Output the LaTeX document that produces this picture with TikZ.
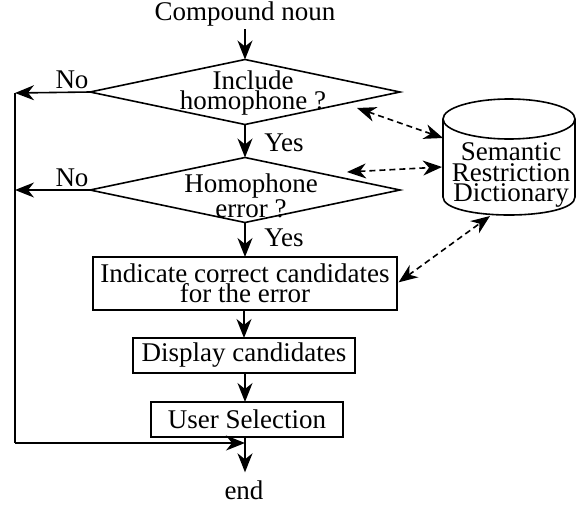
\documentclass[tikz,border=0pt]{standalone}
\usepackage{fontspec}
\setmainfont{Liberation Serif}
\usetikzlibrary{arrows.meta,shapes.geometric}
\begin{document}
\begin{tikzpicture}[x=1pt,y=-1pt,
  txt/.style={font=\fontsize{27}{20.5}\selectfont, align=center, inner sep=0pt},
  line/.style={line width=1.6pt},
  flow/.style={line, -{Stealth[length=19pt,width=15pt,inset=6pt]}},
  link/.style={line, dash pattern=on 6pt off 4pt,
    {Stealth[length=19pt,width=15pt,inset=6pt]}-{Stealth[length=19pt,width=15pt,inset=6pt]}},
  decision/.style={diamond, draw, line, minimum width=310pt, minimum height=65pt,
    inner sep=0pt, outer sep=0pt},
  stepbox/.style={rectangle, draw, line, inner sep=0pt, outer sep=0pt,
    font=\fontsize{27}{20.5}\selectfont, align=center}]
\useasboundingbox (0,0) rectangle (579,504);

% main flow
\node[txt] (cn) at (245,14) {Compound noun};
\node[decision] (d1) at (245,92) {};
\node[txt] (t1) at (253,93) {Include\\homophone ?};
\node[decision] (d2) at (245,190) {};
\node[txt] (t2) at (251,196) {Homophone\\error ?};
\node[stepbox, minimum width=304pt, minimum height=53pt] (b1) at (245,283.5)
  {Indicate correct candidates\\for the error};
\node[stepbox, minimum width=222pt, minimum height=35pt] (b2) at (244,355.5)
  {Display candidates};
\node[stepbox, minimum width=192pt, minimum height=35pt] (b3) at (247,419.5)
  {User Selection};
\node[txt] (end) at (244,490) {end};

\draw[flow] ([yshift=-3pt]cn.south -| d1.north) -- (d1.north);
\draw[flow] (d1.south) -- (d2.north);
\draw[flow] (d2.south) -- (b1.north -| d2.south);
\draw[flow] (b1.south -| b2.north) -- (b2.north);
\draw[flow] (b2.south -| d1.south) -- (b3.north -| d1.south);
\coordinate (join) at (245,443);
\draw[flow, shorten >=8pt] (b3.south -| join) -- (end.north -| join);

\node[txt] (yes1) at (284,143) {Yes};
\node[txt] (yes2) at (284,238) {Yes};
\node[txt] (no1) at (72,80) {No};
\node[txt] (no2) at (72,178) {No};

% "No" branches back to the end
\coordinate (r1) at (15,93);
\coordinate (r2) at (15,190);
\coordinate (rb) at (15,443);
\draw[flow] (d1.west) -- (r1);
\draw[flow] (d2.west) -- (r2);
\draw[line] (r1) -- (rb);
\draw[flow] (rb) -- (join);

% dictionary cylinder
\draw[line] (509,119) ellipse[x radius=66pt, y radius=20pt];
\draw[line] (443,119) -- (443,197) .. controls (443,221) and (575,221) .. (575,197) -- (575,119);
\node[txt] (dict) at (511,175) {Semantic\\Restriction\\Dictionary};

% lookups into the dictionary
\coordinate (q1) at (357,108);
\coordinate (q2) at (347,172);
\coordinate (da) at (443,138);
\coordinate (db) at (442,167);
\coordinate (dc) at (490,216);
\draw[link] (q1) -- (da);
\draw[link] (q2) -- (db);
\draw[link, shorten <=2pt] (b1.east) -- (dc);
\end{tikzpicture}
\end{document}
